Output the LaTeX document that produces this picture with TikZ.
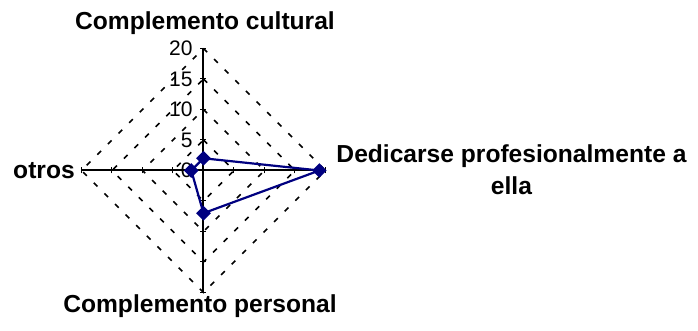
\documentclass[tikz,border=0pt]{standalone}
\usepackage{fontspec}
\setmainfont{Liberation Sans}
\usepackage{xcolor}
\usetikzlibrary{shapes.geometric}
\definecolor{serie}{RGB}{0,0,128}

\begin{document}
\begin{tikzpicture}[x=0.5pt,y=0.5pt,
    eje/.style={line width=1pt,black},
    rejilla/.style={line width=0.8pt,dash pattern=on 2.6pt off 4.9pt},
    titulo/.style={font=\fontsize{12.3}{15.8}\selectfont\bfseries,align=center},
    valor/.style={font=\fontsize{10.5}{12}\selectfont,anchor=east,inner sep=0pt},
    marca/.style={diamond,fill=serie,inner sep=0pt,minimum size=7.5pt}]
    \useasboundingbox (-203.5,-160.5) rectangle (494.5,170.5);

    % ejes
    \coordinate (o) at (0,0);
    \coordinate (arriba) at (0,122);
    \coordinate (derecha) at (122,0);
    \coordinate (abajo) at (0,-122);
    \coordinate (izquierda) at (-122,0);

    \foreach \r in {30.5,61,91.5,122}
        \draw[rejilla] (0,\r) -- (\r,0) -- (0,-\r) -- (-\r,0) -- cycle;

    \draw[eje] (arriba) -- (abajo);
    \draw[eje] (izquierda) -- (derecha);
    \foreach \r in {30.5,61,91.5,122} {
        \draw[line width=0.5pt] (-3,\r) -- (3,\r);
        \draw[line width=0.5pt] (-3,-\r) -- (3,-\r);
        \draw[line width=0.5pt] (\r,-3) -- (\r,3);
        \draw[line width=0.5pt] (-\r,-3) -- (-\r,3);
    }

    \foreach \v/\r in {0/0,5/30.5,10/61,15/91.5,20/122}
        \node[valor] (v\v) at (-10.5,\r) {\v};

    % serie
    \coordinate (pcult) at (0,12.2);
    \coordinate (pded) at (115.9,0);
    \coordinate (ppers) at (0,-42.7);
    \coordinate (potr) at (-12.2,0);
    \draw[serie,line width=1.1pt] (pcult) -- (pded) -- (ppers) -- (potr) -- cycle;
    \node[marca] (mcult) at (pcult) {};
    \node[marca] (mded) at (pded) {};
    \node[marca] (mpers) at (ppers) {};
    \node[marca] (motr) at (potr) {};

    % rotulos
    \node[titulo] (tcult) at (1.5,147) {Complemento cultural};
    \node[titulo] (tded) at (308,0.5) {Dedicarse profesionalmente a\\ella};
    \node[titulo] (tpers) at (-3.5,-136) {Complemento personal};
    \node[titulo] (totr) at (-159.5,-0.3) {otros};
\end{tikzpicture}
\end{document}
